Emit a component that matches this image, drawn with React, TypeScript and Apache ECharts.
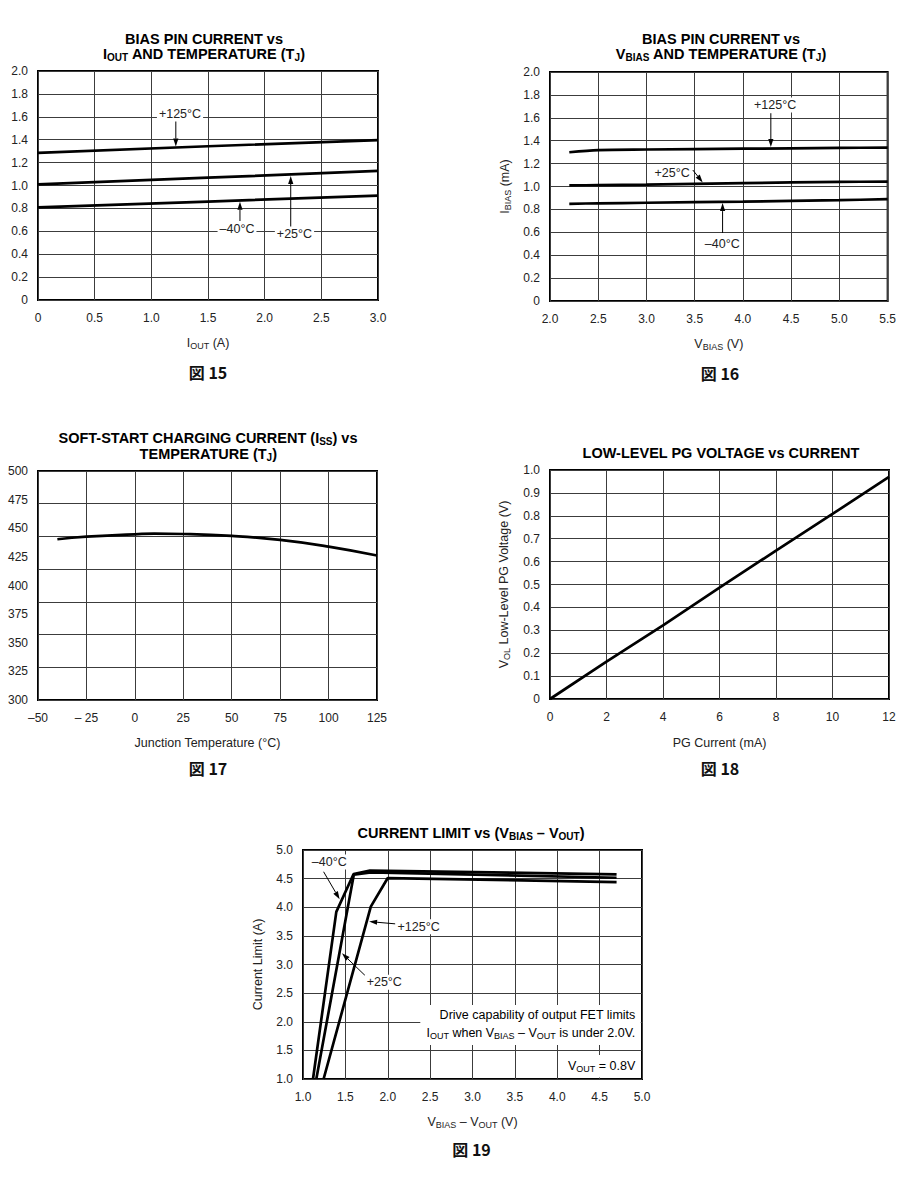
import React, { useEffect, useRef } from 'react';
import * as echarts from 'echarts';

const FONT = '"Liberation Sans", Arial, Helvetica, sans-serif';
const CJK = '"Noto Sans CJK JP", "Liberation Sans", sans-serif';

// ---------- Fig 15: bias pin current vs IOUT ----------
const fig15X = [0, 1.5, 3.0];
const fig15P125 = [1.285, 1.343, 1.396];
const fig15P25 = [1.01, 1.068, 1.127];
const fig15M40 = [0.809, 0.86, 0.911];
const fig15XTicks = ['0', '0.5', '1.0', '1.5', '2.0', '2.5', '3.0'];
const fig15YTicks = ['0', '0.2', '0.4', '0.6', '0.8', '1.0', '1.2', '1.4', '1.6', '1.8', '2.0'];

// ---------- Fig 16: bias pin current vs VBIAS ----------
const fig16X = [2.2, 2.5, 3.0, 4.0, 5.0, 5.5];
const fig16P125 = [1.299, 1.318, 1.323, 1.33, 1.337, 1.34];
const fig16P25 = [1.009, 1.012, 1.017, 1.03, 1.04, 1.043];
const fig16M40 = [0.849, 0.853, 0.858, 0.868, 0.881, 0.889];
const fig16XTicks = ['2.0', '2.5', '3.0', '3.5', '4.0', '4.5', '5.0', '5.5'];
const fig16YTicks = fig15YTicks;

// ---------- Fig 17: soft-start charging current vs temperature ----------
const fig17X = [-40, -25, 0, 10, 25, 50, 75, 100, 125];
const fig17Y = [440.4, 442.7, 444.7, 445.3, 445, 443.3, 439.8, 434, 426.2];
const fig17XTicks = ['–50', '– 25', '0', '25', '50', '75', '100', '125'];
const fig17YTicks = ['300', '325', '350', '375', '400', '425', '450', '475', '500'];

// ---------- Fig 18: low-level PG voltage vs current ----------
const fig18X = [0, 2, 4, 6, 8, 10, 12];
const fig18Y = [0, 0.163, 0.322, 0.486, 0.648, 0.808, 0.97];
const fig18XTicks = ['0', '2', '4', '6', '8', '10', '12'];
const fig18YTicks = ['0', '0.1', '0.2', '0.3', '0.4', '0.5', '0.6', '0.7', '0.8', '0.9', '1.0'];

// ---------- Fig 19: current limit vs (VBIAS - VOUT) ----------
const fig19M40X = [1.118, 1.393, 1.597, 1.79, 4.7];
const fig19M40Y = [1.0, 3.92, 4.58, 4.64, 4.575];
const fig19P25X = [1.157, 1.6, 1.8, 4.7];
const fig19P25Y = [1.0, 4.57, 4.61, 4.515];
const fig19P125X = [1.243, 1.8, 2.0, 4.7];
const fig19P125Y = [1.0, 4.01, 4.51, 4.44];
const fig19XTicks = ['1.0', '1.5', '2.0', '2.5', '3.0', '3.5', '4.0', '4.5', '5.0'];
const fig19YTicks = fig19XTicks;

// ---------- annotations (data coordinates) ----------
const fig15Notes = [
  { text: '+125°C', at: [1.253, 1.624], from: [1.216, 1.57], to: [1.216, 1.34] },
  { text: '–40°C', at: [1.756, 0.624], from: [1.782, 0.677], to: [1.782, 0.858] },
  { text: '+25°C', at: [2.263, 0.576], from: [2.23, 0.629], to: [2.23, 1.083] },
];
const fig16Notes = [
  { text: '+125°C', at: [4.333, 1.712], from: [4.289, 1.64], to: [4.289, 1.345] },
  { text: '+25°C', at: [3.265, 1.121], from: [3.48, 1.144], to: [3.583, 1.036] },
  { text: '–40°C', at: [3.786, 0.498], from: [3.789, 0.594], to: [3.789, 0.855] },
];
const fig19Notes = [
  { text: '–40°C', at: [1.31, 4.79], from: [1.243, 4.62], to: [1.432, 4.14] },
  { text: '+125°C', at: [2.364, 3.66], from: [2.089, 3.71], to: [1.78, 3.75] },
  { text: '+25°C', at: [1.959, 2.69], from: [1.747, 2.787], to: [1.46, 3.196] },
];

const pairs = (xs: number[], ys: number[]) => xs.map((x, i) => [x, ys[i]]);
const fmt = (labels: string[], min: number, step: number) => (v: number) =>
  labels[Math.round((v - min) / step)] ?? '';

const splitLine = { show: true, lineStyle: { color: '#3c3c3c', width: 1 } };
const labelStyle = { fontSize: 12, color: '#222', fontFamily: FONT };

const nameRich = {
  n: { fontSize: 12.5, lineHeight: 15, fontFamily: FONT, color: '#222' },
  s: { fontSize: 9, lineHeight: 5, verticalAlign: 'bottom', fontFamily: FONT, color: '#222' },
};

function xAxis(gridIndex: number, min: number, max: number, step: number, ticks: string[], name = '', nameGap = 35) {
  return {
    type: 'value', gridIndex, min, max, interval: step,
    axisLine: { show: false }, axisTick: { show: false }, splitLine,
    axisLabel: { ...labelStyle, margin: 12, formatter: fmt(ticks, min, step) },
    name, nameLocation: 'middle', nameGap,
    nameTextStyle: { fontSize: 12.5, fontFamily: FONT, color: '#222', lineHeight: 15, rich: nameRich },
  };
}
function yAxis(gridIndex: number, min: number, max: number, step: number, ticks: string[], name = '', nameGap = 38, showSplit = true) {
  return {
    type: 'value', gridIndex, min, max, interval: step,
    axisLine: { show: false }, axisTick: { show: false },
    splitLine: showSplit ? splitLine : { show: false },
    axisLabel: { ...labelStyle, margin: 10, formatter: fmt(ticks, min, step) },
    name, nameLocation: 'middle', nameGap,
    nameTextStyle: { fontSize: 12.5, fontFamily: FONT, color: '#222', lineHeight: 15, rich: nameRich },
  };
}

function line(xi: number, yi: number, data: number[][], smooth: boolean | number = false) {
  return {
    type: 'line', xAxisIndex: xi, yAxisIndex: yi, data, smooth, showSymbol: false,
    symbol: 'none', silent: true, lineStyle: { color: '#000', width: 2.7 }, z: 5,
  };
}

const gridBase = { show: true, borderColor: '#000', borderWidth: 2, backgroundColor: 'transparent' };

function buildOption() {
  return {
    animation: false,
    backgroundColor: '#fff',
    grid: [
      { ...gridBase, left: 38, top: 71, width: 340, height: 229 },
      { ...gridBase, left: 550, top: 72, width: 339, height: 229 },
      { ...gridBase, left: 38, top: 471, width: 339, height: 229 },
      { ...gridBase, left: 550, top: 470, width: 339, height: 229 },
      { ...gridBase, left: 303, top: 850, width: 339, height: 229 },
    ],
    xAxis: [
      xAxis(0, 0, 3, 0.5, fig15XTicks, '{n|I}{s|OUT}{n| (A)}', 35),
      xAxis(1, 2, 5.5, 0.5, fig16XTicks, '{n|V}{s|BIAS}{n| (V)}', 35),
      xAxis(2, -50, 125, 25, fig17XTicks, '{n|Junction Temperature (°C)}', 35),
      xAxis(3, 0, 12, 2, fig18XTicks, '{n|PG Current (mA)}', 36),
      xAxis(4, 1, 5, 0.5, fig19XTicks, '{n|V}{s|BIAS}{n| – V}{s|OUT}{n| (V)}', 35),
    ],
    yAxis: [
      yAxis(0, 0, 2, 0.2, fig15YTicks),
      yAxis(1, 0, 2, 0.2, fig16YTicks, '{n|I}{s|BIAS}{n| (mA)}', 38),
      yAxis(2, 300, 500, 25, fig17YTicks, '', 38, false),
      { type: 'value', gridIndex: 2, min: 0, max: 7, interval: 1, axisLine: { show: false },
        axisTick: { show: false }, axisLabel: { show: false }, splitLine },
      yAxis(3, 0, 1, 0.1, fig18YTicks, '{n|V}{s|OL}{n| Low-Level PG Voltage (V)}', 39),
      yAxis(4, 1, 5, 0.5, fig19YTicks, '{n|Current Limit (A)}', 38),
    ],
    series: [
      line(0, 0, pairs(fig15X, fig15P125)),
      line(0, 0, pairs(fig15X, fig15P25)),
      line(0, 0, pairs(fig15X, fig15M40)),
      line(1, 1, pairs(fig16X, fig16P125), 0.3),
      line(1, 1, pairs(fig16X, fig16P25), 0.3),
      line(1, 1, pairs(fig16X, fig16M40), 0.3),
      line(2, 2, pairs(fig17X, fig17Y), 0.5),
      line(3, 4, pairs(fig18X, fig18Y)),
      line(4, 5, pairs(fig19M40X, fig19M40Y)),
      line(4, 5, pairs(fig19P25X, fig19P25Y)),
      line(4, 5, pairs(fig19P125X, fig19P125Y)),
    ],
  };
}

const titleRich = {
  b: { fontSize: 14.5, fontWeight: 'bold', fontFamily: FONT, lineHeight: 16, color: '#111' },
  s: { fontSize: 10, fontWeight: 'bold', fontFamily: FONT, lineHeight: 6, verticalAlign: 'bottom', color: '#111' },
};
const noteRich = {
  n: { fontSize: 12.5, fontFamily: FONT, lineHeight: 15, color: '#222' },
  s: { fontSize: 9, fontFamily: FONT, lineHeight: 5, verticalAlign: 'bottom', color: '#222' },
};

function titleText(x: number, y: number, text: string) {
  return { type: 'text', x, y, z: 100, silent: true,
    style: { text, rich: titleRich, align: 'center', verticalAlign: 'middle' } };
}
function figText(x: number, y: number, text: string) {
  return { type: 'text', x, y, z: 100, silent: true,
    style: { text, font: `bold 16px ${CJK}`, fill: '#111', align: 'center', verticalAlign: 'middle' } };
}

function buildGraphics(chart: any) {
  const els: any[] = [];
  const px = (g: number, p: number[]) => chart.convertToPixel({ gridIndex: g }, p) as number[];
  const addNotes = (g: number, notes: typeof fig15Notes) => {
    notes.forEach((n) => {
      const a = px(g, n.at);
      const f = px(g, n.from);
      const t = px(g, n.to);
      const dx = t[0] - f[0];
      const dy = t[1] - f[1];
      const len = Math.hypot(dx, dy) || 1;
      const ux = dx / len, uy = dy / len;
      const hl = 8, hw = 2.6;
      const bx = t[0] - ux * hl, by = t[1] - uy * hl;
      els.push({ type: 'line', z: 100, silent: true,
        shape: { x1: f[0], y1: f[1], x2: bx, y2: by }, style: { stroke: '#000', lineWidth: 1 } });
      els.push({ type: 'polygon', z: 100, silent: true,
        shape: { points: [[t[0], t[1]], [bx - uy * hw, by + ux * hw], [bx + uy * hw, by - ux * hw]] },
        style: { fill: '#000' } });
      els.push({ type: 'text', x: a[0], y: a[1], z: 101, silent: true,
        style: { text: n.text, font: `12.5px ${FONT}`, fill: '#222', align: 'center', verticalAlign: 'middle',
          backgroundColor: '#fff', padding: [1, 2] } });
    });
  };
  addNotes(0, fig15Notes);
  addNotes(1, fig16Notes);
  addNotes(4, fig19Notes);

  // Fig 19 boxed notes
  const r1a = px(4, [2.384, 2.293]);
  const r1b = px(4, [4.985, 1.594]);
  els.push({ type: 'rect', z: 99, silent: true,
    shape: { x: r1a[0], y: r1a[1], width: r1b[0] - r1a[0], height: r1b[1] - r1a[1] }, style: { fill: '#fff' } });
  const r2a = px(4, [4.071, 1.419]);
  const r2b = px(4, [4.985, 1.026]);
  els.push({ type: 'rect', z: 99, silent: true,
    shape: { x: r2a[0], y: r2a[1], width: r2b[0] - r2a[0], height: r2b[1] - r2a[1] }, style: { fill: '#fff' } });
  const t1 = px(4, [4.921, 2.118]);
  const t2 = px(4, [4.921, 1.803]);
  const t3 = px(4, [4.921, 1.227]);
  els.push({ type: 'text', x: t1[0], y: t1[1], z: 101, silent: true,
    style: { text: '{n|Drive capability of output FET limits}', rich: noteRich, align: 'right', verticalAlign: 'middle' } });
  els.push({ type: 'text', x: t2[0], y: t2[1], z: 101, silent: true,
    style: { text: '{n|I}{s|OUT}{n| when V}{s|BIAS}{n| – V}{s|OUT}{n| is under 2.0V.}', rich: noteRich, align: 'right', verticalAlign: 'middle' } });
  els.push({ type: 'text', x: t3[0], y: t3[1], z: 101, silent: true,
    style: { text: '{n|V}{s|OUT}{n| = 0.8V}', rich: noteRich, align: 'right', verticalAlign: 'middle' } });

  // titles
  els.push(titleText(204, 39, '{b|BIAS PIN CURRENT vs}'));
  els.push(titleText(204, 54.3, '{b|I}{s|OUT}{b| AND TEMPERATURE (T}{s|J}{b|)}'));
  els.push(titleText(721, 39, '{b|BIAS PIN CURRENT vs}'));
  els.push(titleText(721, 54.3, '{b|V}{s|BIAS}{b| AND TEMPERATURE (T}{s|J}{b|)}'));
  els.push(titleText(208, 438.3, '{b|SOFT-START CHARGING CURRENT (I}{s|SS}{b|) vs}'));
  els.push(titleText(208.3, 454.3, '{b|TEMPERATURE (T}{s|J}{b|)}'));
  els.push(titleText(721, 452.7, '{b|LOW-LEVEL PG VOLTAGE vs CURRENT}'));
  els.push(titleText(471, 833.3, '{b|CURRENT LIMIT vs (V}{s|BIAS}{b| – V}{s|OUT}{b|)}'));

  // figure numbers
  els.push(figText(208, 372, '図 15'));
  els.push(figText(720, 372.7, '図 16'));
  els.push(figText(208, 768, '図 17'));
  els.push(figText(720, 768, '図 18'));
  els.push(figText(471.5, 1149.3, '図 19'));
  return els;
}

export default function App() {
  const ref = useRef<HTMLDivElement>(null);
  useEffect(() => {
    document.body.style.margin = '0';
    const chart = echarts.init(ref.current!, undefined, { renderer: 'svg' });
    chart.setOption(buildOption() as any);
    chart.setOption({ graphic: buildGraphics(chart) } as any);
    return () => chart.dispose();
  }, []);
  return <div ref={ref} style={{ width: 899, height: 1191, background: '#fff' }} />;
}
